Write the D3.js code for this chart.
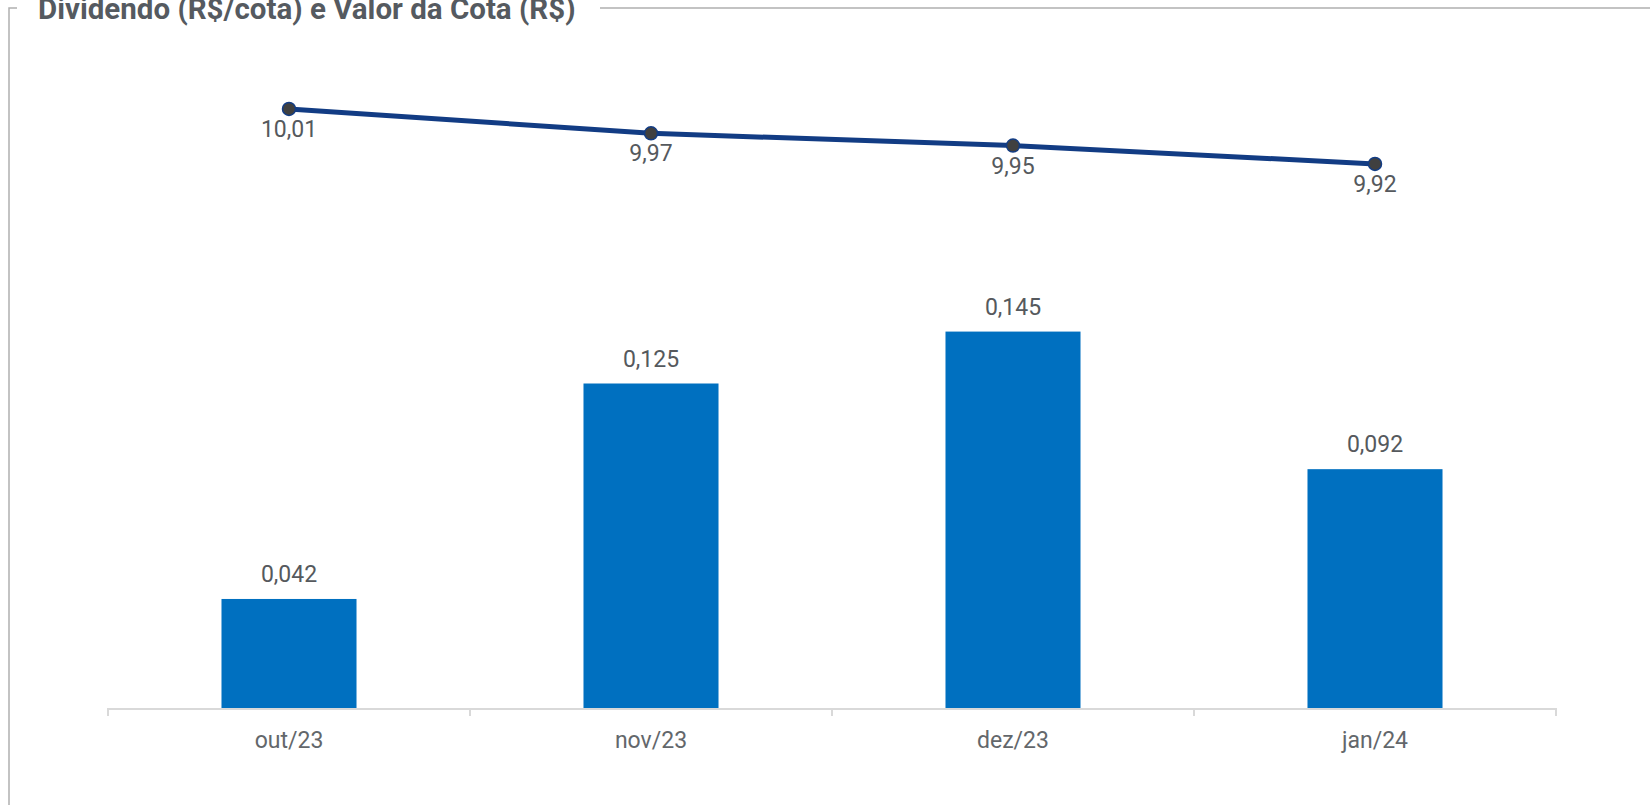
<!DOCTYPE html>
<html>
<head>
<meta charset="utf-8">
<script src="https://cdn.jsdelivr.net/npm/d3@7"></script>
<style>
  html, body { margin: 0; padding: 0; background: #fff; }
  svg { display: block; font-family: Roboto, "Noto Sans", sans-serif; }
</style>
</head>
<body>
<script>
// chart data
let months = ["out/23", "nov/23", "dez/23", "jan/24"]
let dividends = [0.042, 0.125, 0.145, 0.092]
let quotaValues = [10.01, 9.97, 9.95, 9.92]
let title = "Dividendo (R$/cota) e Valor da Cota (R$)"

let width = 1650
let height = 805

let margin = {left: 108, right: 94, top: 59, bottom: 97}
let baseY = height - margin.bottom

let fmt = (v, n) => v.toFixed(n).replace(".", ",")

let svg = d3.select("body").append("svg")
    .attr("width", width)
    .attr("height", height)

// frame round the chart (fieldset-like)
svg.append("path")
    .attr("d", "M9,805 V8 H17 M600,8 H1650")
    .attr("fill", "none")
    .attr("stroke", "#b0b0b0")
    .attr("stroke-width", 1.5)

svg.append("text")
    .attr("x", 38)
    .attr("y", 19)
    .attr("font-size", 29.5)
    .attr("font-weight", "bold")
    .attr("fill", "#555a60")
    .text(title)

let x = d3.scaleBand()
    .domain(months)
    .range([margin.left, width - margin.right])
    .paddingInner(0.627)
    .paddingOuter(0.3135)

let band = d3.scaleBand().domain(months).range([margin.left, width - margin.right])

let yBar = d3.scaleLinear().domain([0, 0.25]).range([baseY, margin.top])
let yLine = d3.scaleLinear().domain([9.03, 10.09]).range([baseY, margin.top + 1])

// bars
svg.selectAll(".bar")
    .data(dividends)
    .enter().append("rect")
    .attr("class", "bar")
    .attr("x", (d, i) => x(months[i]))
    .attr("y", d => yBar(d))
    .attr("width", x.bandwidth())
    .attr("height", d => baseY - yBar(d))
    .attr("fill", "#0070c0")

svg.selectAll(".bar-label")
    .data(dividends)
    .enter().append("text")
    .attr("class", "bar-label")
    .attr("x", (d, i) => band(months[i]) + band.bandwidth() / 2)
    .attr("y", d => yBar(d) - 17)
    .attr("text-anchor", "middle")
    .attr("font-size", 23)
    .attr("fill", "#55595d")
    .text(d => fmt(d, 3))

// x axis
let axis = svg.append("g")
axis.append("line")
    .attr("x1", margin.left).attr("x2", width - margin.right)
    .attr("y1", baseY + 1).attr("y2", baseY + 1)
    .attr("stroke", "#d9d9d9").attr("stroke-width", 2)

let tickPos = months.map(m => band(m)).concat([width - margin.right])
axis.selectAll(".tick")
    .data(tickPos)
    .enter().append("line")
    .attr("x1", d => d).attr("x2", d => d)
    .attr("y1", baseY).attr("y2", baseY + 8)
    .attr("stroke", "#d9d9d9").attr("stroke-width", 2)

axis.selectAll(".xlabel")
    .data(months)
    .enter().append("text")
    .attr("x", d => band(d) + band.bandwidth() / 2)
    .attr("y", baseY + 40)
    .attr("text-anchor", "middle")
    .attr("font-size", 23)
    .attr("fill", "#63676b")
    .text(d => d)

// line for quota value
let cx = i => band(months[i]) + band.bandwidth() / 2

let line = d3.line()
    .x((d, i) => cx(i))
    .y(d => yLine(d))

svg.append("path")
    .datum(quotaValues)
    .attr("d", line)
    .attr("fill", "none")
    .attr("stroke", "#123c84")
    .attr("stroke-width", 5)

svg.selectAll(".dot")
    .data(quotaValues)
    .enter().append("circle")
    .attr("cx", (d, i) => cx(i))
    .attr("cy", d => yLine(d))
    .attr("r", 6.5)
    .attr("fill", "#404040")
    .attr("stroke", "#123c84")
    .attr("stroke-width", 1.5)

svg.selectAll(".line-label")
    .data(quotaValues)
    .enter().append("text")
    .attr("x", (d, i) => cx(i))
    .attr("y", d => yLine(d) + 28)
    .attr("text-anchor", "middle")
    .attr("font-size", 23)
    .attr("fill", "#55595d")
    .text(d => fmt(d, 2))
</script>
</body>
</html>
